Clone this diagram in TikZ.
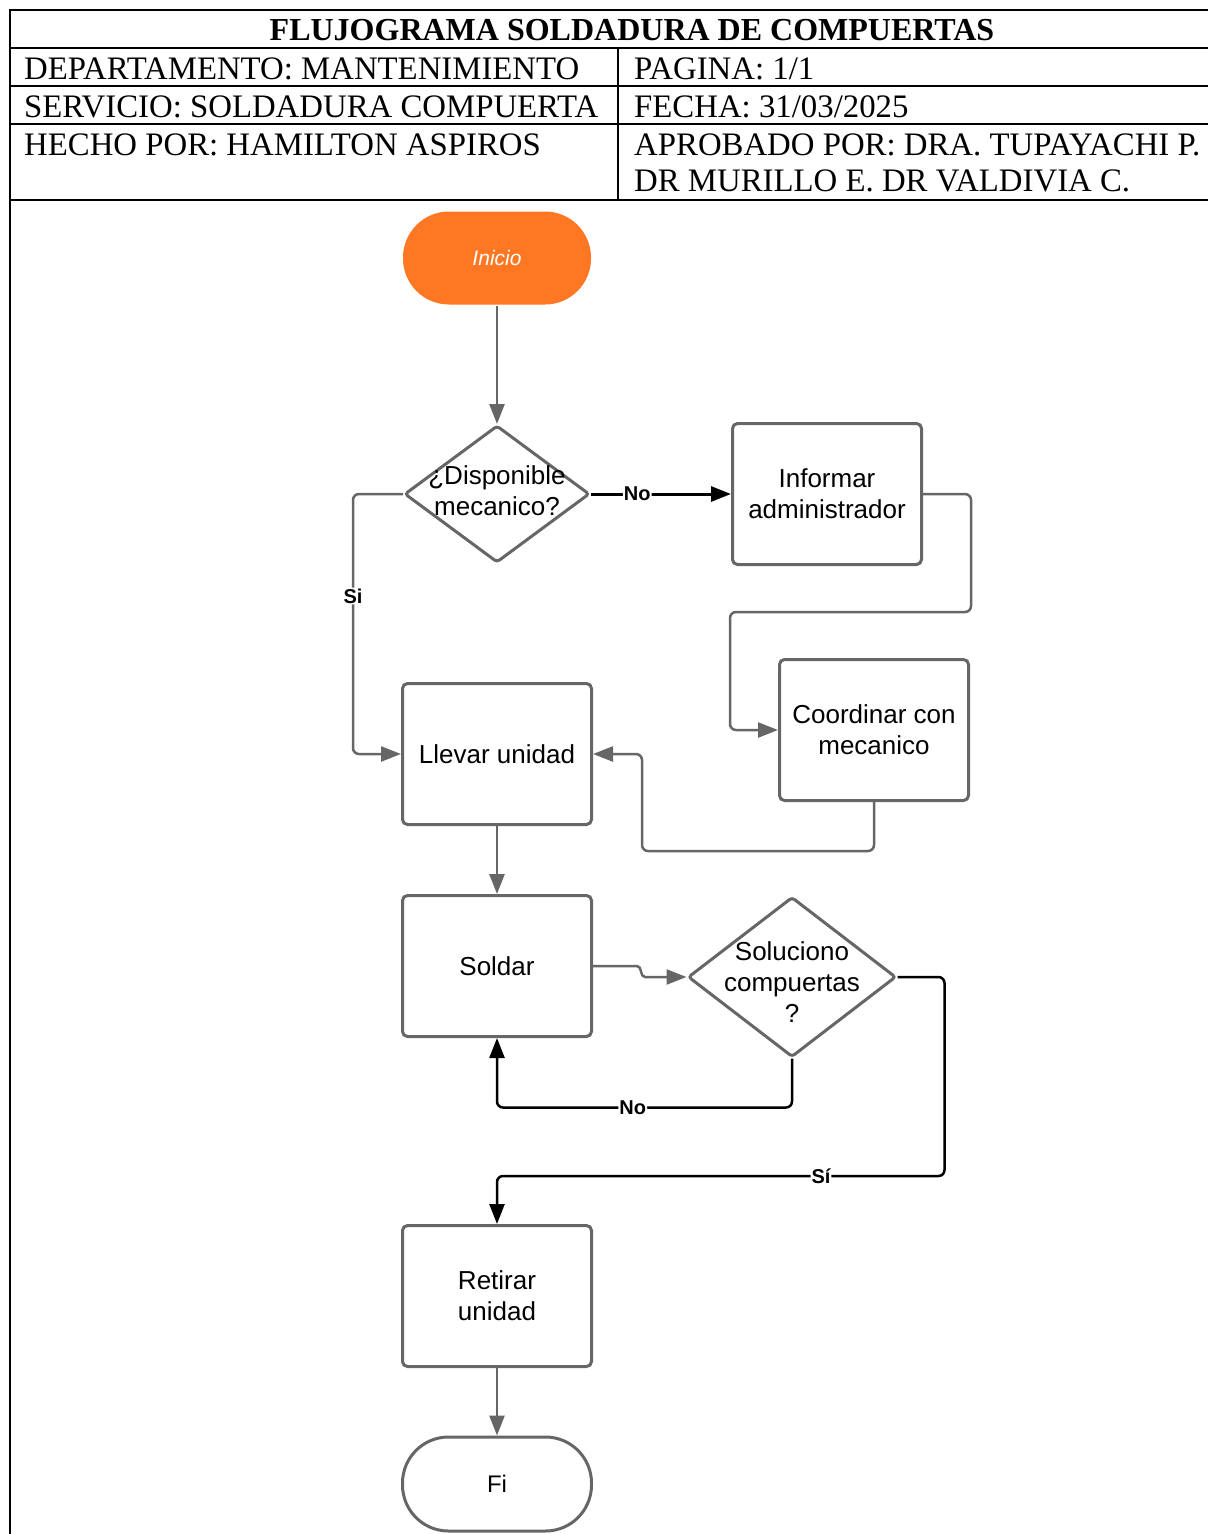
\documentclass[tikz,border=0pt]{standalone}
\usepackage{fontspec}
\setmainfont{Liberation Serif}
\newfontfamily\arialf{Liberation Sans}
\usetikzlibrary{shapes.geometric,arrows.meta,calc}
\definecolor{lgray}{RGB}{102,102,102}
\definecolor{orng}{RGB}{255,119,34}
\tikzset{
  tbl/.style={line width=2pt, black},
  hdr/.style={anchor=base west, inner sep=0pt, font=\fontsize{32.8}{36}\selectfont},
  proc/.style={draw=lgray, line width=3pt, rounded corners=5pt, minimum width=189pt, minimum height=141pt, align=center, font=\arialf\fontsize{26}{31}\selectfont, inner sep=2pt},
  term/.style={draw=lgray, line width=3pt, rounded corners=46pt, minimum width=189pt, minimum height=94pt, font=\arialf\fontsize{24}{28}\selectfont},
  dec/.style={draw=lgray, line width=3pt, diamond, inner sep=0pt, rounded corners=3pt},
  garrow/.style={draw=lgray, line width=2.5pt, rounded corners=6pt, -{Triangle[length=20pt,width=15pt]}},
  barrow/.style={draw=black, line width=2.5pt, rounded corners=6pt, -{Triangle[length=20pt,width=15pt]}},
  lbl/.style={fill=white, inner sep=1pt, font=\arialf\bfseries\fontsize{20}{22}\selectfont},
}
\begin{document}
\begin{tikzpicture}[x=1pt,y=-1pt]
\useasboundingbox (0,0) rectangle (1208,1534);
% table
\draw[tbl] (10,1534) -- (10,10) -- (1208,10);
\draw[tbl] (10,48) -- (1208,48);
\draw[tbl] (10,86) -- (1208,86);
\draw[tbl] (10,124) -- (1208,124);
\draw[tbl] (10,200) -- (1208,200);
\draw[tbl] (618,48) -- (618,200);
\node[anchor=base, inner sep=0pt, font=\bfseries\fontsize{32}{36}\selectfont] (title) at (632,40) {FLUJOGRAMA SOLDADURA DE COMPUERTAS};
\node[hdr] (h1) at (24,79) {DEPARTAMENTO: MANTENIMIENTO};
\node[hdr] (h2) at (634,79) {PAGINA: 1/1};
\node[hdr] (h3) at (24,117) {SERVICIO: SOLDADURA COMPUERTA};
\node[hdr] (h4) at (634,117) {FECHA: 31/03/2025};
\node[hdr] (h5) at (24,155) {HECHO POR: HAMILTON ASPIROS};
\node[hdr] (h6) at (634,155) {APROBADO POR: DRA. TUPAYACHI P.};
\node[hdr] (h7) at (634,191) {DR MURILLO E. DR VALDIVIA C.};
% nodes
\node[term, draw=none, fill=orng, text=white, font=\arialf\itshape\fontsize{21}{24}\selectfont, minimum width=188pt, minimum height=93pt] (ini) at (497,258) {Inicio};
\node[dec, minimum width=185pt, minimum height=137pt, label={[align=center, font=\arialf\fontsize{26}{31}\selectfont, yshift=3pt]center:{¿Disponible\\mecanico?}}] (d1) at (497,494) {};
\node[proc] (inf) at (827,494) {Informar\\administrador};
\node[proc] (coo) at (874,730) {Coordinar con\\mecanico};
\node[proc] (lle) at (497,754) {Llevar unidad};
\node[proc] (sol) at (497,966) {Soldar};
\node[dec, minimum width=208pt, minimum height=160pt, label={[align=center, font=\arialf\fontsize{26}{31}\selectfont, yshift=-5pt]center:{Soluciono\\compuertas\\?}}] (d2) at (792,977) {};
\node[proc] (ret) at (497,1296) {Retirar\\unidad};
\node[term] (fin) at (497,1484) {Fi};
% connectors
\draw[garrow] (ini.south) -- (d1.north);
\draw[garrow] (d1.west) -- ++(-50,0) |- node[lbl, pos=0.196] {Si} (lle.west);
\draw[barrow, line width=3pt] (d1.east) -- node[lbl, pos=0.33] {No} (inf.west);
\draw[garrow] (inf.east) -- ++(48,0) -- ++(0,118) -| ([xshift=-48pt]coo.west) -- (coo.west);
\draw[garrow] (coo.south) -- ++(0,49) -| ([xshift=49pt]lle.east) -- (lle.east);
\draw[garrow] (lle.south) -- (sol.north);
\draw[garrow, rounded corners=0pt] (sol.east) -- ++(44,0) to[out=0,in=180] ++(8,11) -- (d2.west);
\draw[barrow] (d2.south) -- ++(0,49) -| node[lbl, pos=0.27] {No} (sol.south);
\draw[barrow] (d2.east) -- ++(47,0) -- ++(0,199) -| node[lbl, pos=0.138] {Sí} (ret.north);
\draw[garrow] (ret.south) -- (fin.north);
\end{tikzpicture}
\end{document}
